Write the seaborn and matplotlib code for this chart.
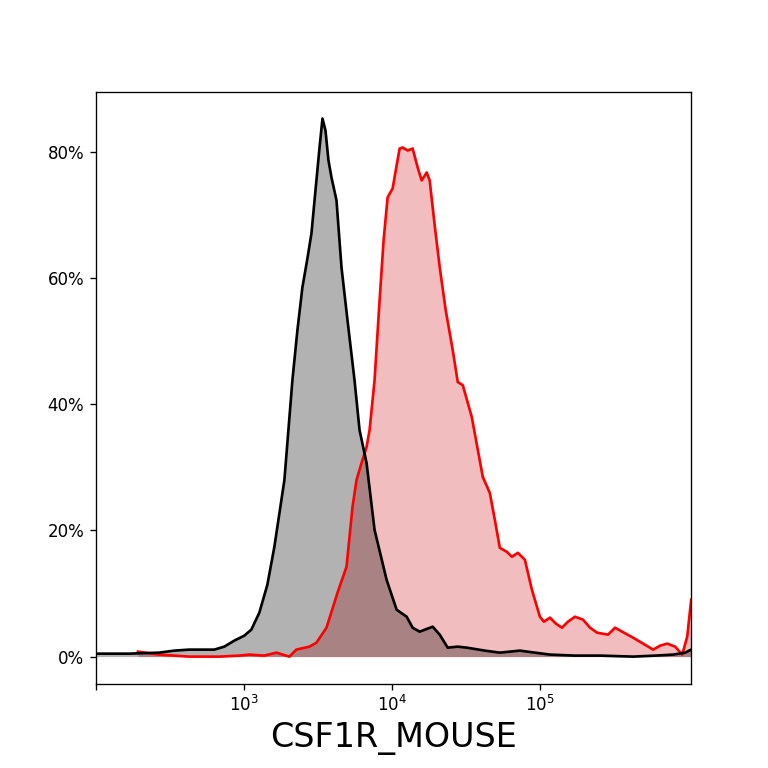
import numpy as np
import pandas as pd
import seaborn as sns
import matplotlib
matplotlib.use("Agg")
import matplotlib.pyplot as plt
from matplotlib.ticker import PercentFormatter, NullLocator, FixedLocator

# control (grey) histogram: fluorescence intensity and % of max
ctrl_x = [100, 167, 267, 338, 426, 630, 736, 860, 1005, 1121, 1270, 1439, 1605,
          1876, 2125, 2297, 2483, 2685, 2858, 3042, 3237, 3393, 3555, 3725, 3904,
          4220, 4561, 5008, 5586, 6040, 6737, 7630, 9201, 10755, 12573, 13801,
          15393, 18853, 21028, 23823, 27845, 32036, 42420, 53590, 73180, 92500,
          116860, 172600, 254900, 426400, 600700, 795400, 959200, 1053000]
ctrl_y = [0.47, 0.47, 0.63, 0.95, 1.11, 1.11, 1.58, 2.53, 3.32, 4.27, 6.96, 11.38,
          17.39, 27.98, 43.79, 51.70, 58.50, 63.08, 67.04, 73.83, 80.5, 85.22,
          83.32, 78.58, 75.89, 72.25, 61.66, 53.28, 43.79, 35.89, 30.67, 20.08,
          12.17, 7.43, 6.32, 4.58, 3.95, 4.74, 3.48, 1.42, 1.58, 1.42, 0.95, 0.63,
          0.95, 0.63, 0.32, 0.16, 0.16, 0.00, 0.16, 0.32, 0.63, 1.11]

# CSF1R stained (red) histogram
stain_x = [192, 267, 426, 681, 930, 1087, 1373, 1656, 2028, 2261, 2770, 3090, 3611,
           4287, 4932, 5416, 5764, 6232, 6737, 7061, 7630, 8252, 8782, 9348, 10105,
           10755, 11270, 11810, 12770, 13800, 14920, 15880, 17170, 17990, 19450,
           21030, 23090, 25750, 27850, 30100, 34640, 41110, 45860, 49590, 53590,
           59780, 64630, 70970, 79150, 88280, 100000, 106400, 116900, 128300,
           140900, 154700, 172600, 195600, 218100, 243300, 288800, 322100, 359300,
           426400, 498400, 582500, 649700, 724500, 820700, 915500, 989700, 1053000]
stain_y = [0.79, 0.32, 0.00, 0.00, 0.16, 0.32, 0.16, 0.63, 0.00, 1.11, 1.58, 2.21,
           4.58, 10.12, 14.23, 23.72, 27.98, 30.67, 33.20, 35.89, 43.79, 56.44,
           65.93, 72.73, 74.15, 77.79, 80.47, 80.63, 80.16, 80.47, 77.47, 75.42,
           76.68, 75.42, 68.30, 61.66, 54.86, 48.54, 43.48, 43.00, 37.94, 28.46,
           25.93, 21.66, 17.23, 16.60, 15.81, 16.44, 15.34, 10.59, 6.32, 5.53,
           6.17, 5.22, 4.58, 5.53, 6.32, 5.85, 4.58, 3.79, 3.48, 4.58, 3.95, 3.00,
           2.06, 1.11, 1.74, 2.06, 1.58, 0.32, 3.16, 9.01]

ctrl = pd.DataFrame({"x": ctrl_x, "y": ctrl_y})
stain = pd.DataFrame({"x": stain_x, "y": stain_y})

fig, ax = plt.subplots(figsize=(6.4, 6.4), dpi=120)

ax.fill_between(stain["x"], stain["y"], 0, color="tab:red", alpha=0.3, lw=0)
sns.lineplot(data=stain, x="x", y="y", color="red", lw=1.6, ax=ax)
ax.fill_between(ctrl["x"], ctrl["y"], 0, color="black", alpha=0.3, lw=0)
sns.lineplot(data=ctrl, x="x", y="y", color="black", lw=1.6, ax=ax)

ax.set_xscale("log")
ax.set_xlim(100, 1.053e6)
ax.set_ylim(-4.26, 89.4)
ax.xaxis.set_major_locator(FixedLocator([1e2, 1e3, 1e4, 1e5]))
ax.set_xticklabels(["", "$10^3$", "$10^4$", "$10^5$"])
ax.xaxis.set_minor_locator(NullLocator())
ax.set_yticks([0, 20, 40, 60, 80])
ax.yaxis.set_major_formatter(PercentFormatter(xmax=100, decimals=0))
ax.set_xlabel("CSF1R_MOUSE", fontsize=20)
ax.set_ylabel("")

plt.savefig("out.png", dpi=120)
